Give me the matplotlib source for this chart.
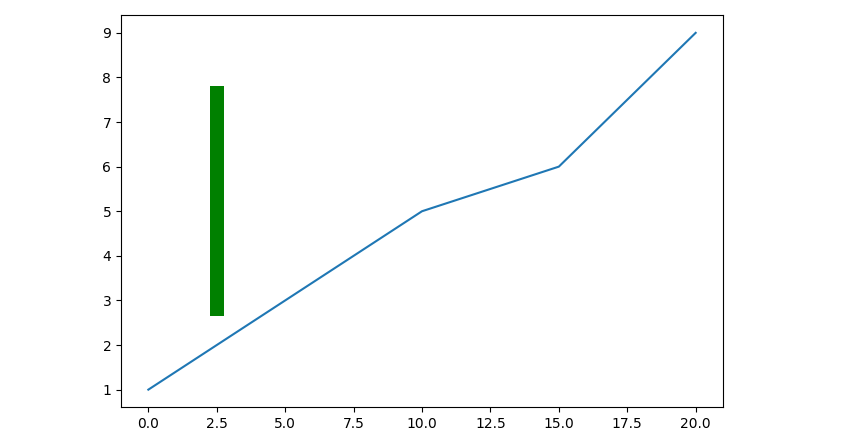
import matplotlib
matplotlib.use("Agg")
import matplotlib.pyplot as plt

# Data
x = [0, 10, 15, 20]
y = [1, 5, 6, 9]

bar_x = 2.5
bar_bottom = 2.65
bar_top = 7.8

fig = plt.figure(figsize=(8.66, 4.45), dpi=100)
ax = fig.add_axes([0.1397, 0.0843, 0.6952, 0.882])

ax.plot(x, y)
ax.bar(bar_x, bar_top - bar_bottom, bottom=bar_bottom, width=0.5, color="green")

ax.set_xlim(-1, 21)
ax.set_ylim(0.6, 9.4)
ax.set_xticks([0, 2.5, 5, 7.5, 10, 12.5, 15, 17.5, 20])
ax.set_xticklabels(["0.0", "2.5", "5.0", "7.5", "10.0", "12.5", "15.0", "17.5", "20.0"])
ax.set_yticks(range(1, 10))

fig.savefig("out.png", dpi=100)
